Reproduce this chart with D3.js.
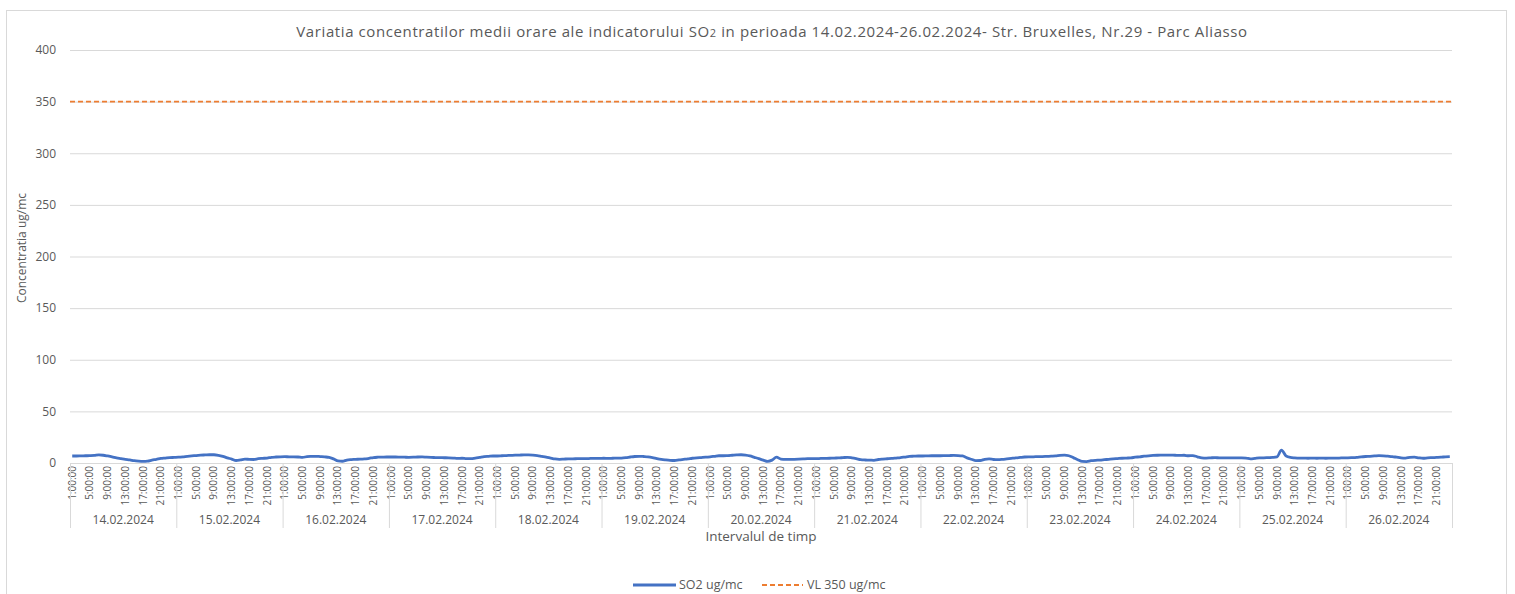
<!DOCTYPE html>
<html>
<head>
<meta charset="utf-8">
<script src="https://cdn.jsdelivr.net/npm/d3@7"></script>
<style>
  body { margin: 0; background: #fff; }
  text { font-family: "Open Sans", "DejaVu Sans", sans-serif; fill: #595959; }
</style>
</head>
<body>
<div id="chart"></div>
<script>
// Data
const days = ['14.02.2024', '15.02.2024', '16.02.2024', '17.02.2024', '18.02.2024', '19.02.2024',
    '20.02.2024', '21.02.2024', '22.02.2024', '23.02.2024', '24.02.2024', '25.02.2024', '26.02.2024'];

const hourLabels = ['1:00:00', '2:00:00', '3:00:00', '4:00:00', '5:00:00', '6:00:00', '7:00:00', '8:00:00',
    '9:00:00', '10:00:00', '11:00:00', '12:00:00', '13:00:00', '14:00:00', '15:00:00', '16:00:00',
    '17:00:00', '18:00:00', '19:00:00', '20:00:00', '21:00:00', '22:00:00', '23:00:00', '0:00:00'];

// SO2 hourly averages, one row per day (24 values)
const so2Values = [
    6.8, 6.8, 6.9, 7, 7.1, 7.3, 7.8, 7.5, 6.8, 6, 5, 4.3, 3.6, 3, 2.2, 1.8, 1.6, 1.8, 2.8, 3.5, 4.4, 4.8, 5.2, 5.4,
    5.6, 6, 6.5, 6.9, 7.2, 7.6, 7.8, 8, 8, 7.5, 6.5, 5, 3.8, 2.4, 3, 3.8, 3.5, 3.4, 4.2, 4.5, 4.8, 5.5, 5.8, 6,
    6.1, 6, 6, 5.8, 5.4, 6.2, 6.4, 6.5, 6.2, 5.9, 5.5, 4, 2, 1.7, 2.9, 3.3, 3.5, 3.8, 3.9, 4.5, 5.3, 5.6, 5.7, 5.8,
    5.8, 5.8, 5.7, 5.6, 5.5, 5.6, 5.8, 5.9, 5.6, 5.4, 5.3, 5.2, 5.1, 5, 4.8, 4.5, 4.6, 4.2, 4.2, 4.8, 5.5, 6.2, 6.5, 6.8,
    6.8, 7, 7.2, 7.4, 7.6, 7.7, 7.8, 7.8, 7.6, 7.2, 6.5, 5.8, 4.8, 3.9, 3.6, 3.8, 4, 4, 4.2, 4.3, 4.2, 4.4, 4.5, 4.5,
    4.6, 4.5, 4.6, 4.7, 4.8, 5.2, 5.8, 6.3, 6.5, 6.3, 6, 5.3, 4.3, 3.5, 3, 2.6, 2.4, 3, 3.5, 4, 4.6, 5, 5.3, 5.6,
    6, 6.5, 7, 7, 7.2, 7.5, 7.8, 8, 7.6, 6.8, 5.5, 4.2, 2.8, 1.6, 2.8, 5.6, 3.8, 3.6, 3.6, 3.6, 3.7, 3.9, 4.2, 4.2,
    4.2, 4.4, 4.5, 4.6, 4.8, 4.9, 5.2, 5.5, 5, 4.2, 3.2, 2.9, 2.8, 2.6, 3.4, 3.8, 4.1, 4.4, 4.8, 5.2, 5.8, 6.4, 6.6, 6.8,
    6.8, 6.9, 7, 7, 7, 7.1, 7.2, 7.3, 7.2, 6.8, 5, 3.6, 2.3, 2.4, 3.6, 4, 3.4, 3.2, 3.5, 4, 4.5, 5, 5.4, 5.8,
    6, 6, 6.2, 6.2, 6.4, 6.6, 6.8, 7.4, 7.6, 7, 5.2, 3.2, 1.5, 1.4, 2.2, 2.6, 2.8, 3.2, 3.6, 4, 4.3, 4.6, 4.8, 5,
    5.6, 6, 6.6, 7, 7.3, 7.5, 7.6, 7.7, 7.6, 7.5, 7.4, 7.5, 7, 7.2, 6, 5, 4.8, 5, 5.2, 5, 5, 4.9, 5, 4.9,
    5, 4.8, 4, 4.5, 5, 5, 5.2, 5.4, 6, 12.5, 7, 5.4, 5, 4.8, 4.8, 4.6, 4.8, 4.6, 4.8, 4.6, 4.7, 4.8, 4.8, 5,
    5, 5.2, 5.5, 6, 6.3, 6.5, 6.8, 7.2, 7, 6.6, 6.2, 5.6, 5, 4.8, 5.4, 5.6, 5, 4.6, 5, 5.2, 5.4, 5.6, 6, 6.2
];

const limitValue = 350;
const yTicks = [0, 50, 100, 150, 200, 250, 300, 350, 400];

// Layout
const W = 1515, H = 594;
const plot = { left: 70, right: 1452, top: 50, bottom: 463 };

const svg = d3.select('#chart').append('svg')
    .attr('width', W)
    .attr('height', H);

// outer chart border
svg.append('rect')
    .attr('x', 6.5).attr('y', 10.5)
    .attr('width', 1500).attr('height', 600)
    .attr('fill', 'none')
    .attr('stroke', '#d9d9d9');

const points = so2Values.map((v, i) => ({ i: i, day: days[Math.floor(i / 24)], hour: hourLabels[i % 24], value: v }));

const xScale = d3.scaleBand()
    .domain(points.map(d => d.i))
    .range([plot.left, plot.right]);

const yScale = d3.scaleLinear()
    .domain([0, 400])
    .range([plot.bottom, plot.top]);

// gridlines
svg.append('g')
    .selectAll('line')
    .data(yTicks.filter(t => t > 0))
    .join('line')
    .attr('x1', plot.left).attr('x2', plot.right)
    .attr('y1', d => yScale(d) + 0.5).attr('y2', d => yScale(d) + 0.5)
    .attr('stroke', '#d9d9d9');

// y axis labels
const yAxis = d3.axisLeft(yScale).tickValues(yTicks).tickSize(0).tickPadding(14);
const yG = svg.append('g')
    .attr('transform', `translate(${plot.left},0)`)
    .call(yAxis);
yG.select('.domain').remove();
yG.selectAll('text')
    .style('font-size', '12px')
    .attr('fill', '#595959');

// x axis baseline
svg.append('line')
    .attr('x1', plot.left).attr('x2', plot.right)
    .attr('y1', plot.bottom + 0.5).attr('y2', plot.bottom + 0.5)
    .attr('stroke', '#d9d9d9');

// hour labels (every 4th)
svg.append('g')
    .selectAll('text')
    .data(points.filter(d => d.i % 4 === 0))
    .join('text')
    .attr('transform', d => `translate(${xScale(d.i) + xScale.bandwidth() / 2},${plot.bottom + 3}) rotate(-90)`)
    .attr('text-anchor', 'end')
    .attr('dy', '0.35em')
    .style('font-size', '10px')
    .text(d => d.hour);

// day group separators + labels
const dayWidth = xScale.bandwidth() * 24;
svg.append('g')
    .selectAll('line')
    .data(d3.range(days.length + 1))
    .join('line')
    .attr('x1', d => d3.min([plot.right, plot.left + d * dayWidth]) + 0.5)
    .attr('x2', d => d3.min([plot.right, plot.left + d * dayWidth]) + 0.5)
    .attr('y1', plot.bottom).attr('y2', 528)
    .attr('stroke', '#d9d9d9');

svg.append('g')
    .selectAll('text')
    .data(days)
    .join('text')
    .attr('x', (d, i) => plot.left + (i + 0.5) * dayWidth)
    .attr('y', 524)
    .attr('text-anchor', 'middle')
    .style('font-size', '12px')
    .text(d => d);

// limit line
svg.append('line')
    .attr('x1', plot.left).attr('x2', plot.right)
    .attr('y1', yScale(limitValue)).attr('y2', yScale(limitValue))
    .attr('stroke', '#ed7d31')
    .attr('stroke-width', 1.8)
    .attr('stroke-dasharray', '5,3');

// SO2 line
const line = d3.line()
    .x(d => xScale(d.i) + xScale.bandwidth() / 2)
    .y(d => yScale(d.value))
    .curve(d3.curveMonotoneX);

svg.append('path')
    .datum(points)
    .attr('d', line)
    .attr('fill', 'none')
    .attr('stroke', '#4472c4')
    .attr('stroke-width', 2.8)
    .attr('stroke-linejoin', 'round');

// title
const title = svg.append('text')
    .attr('x', 772)
    .attr('y', 37)
    .attr('text-anchor', 'middle')
    .style('font-size', '15px')
    .style('letter-spacing', '0.6px');
title.append('tspan').text('Variatia concentratilor medii orare ale indicatorului SO');
title.append('tspan').style('font-size', '11px').text('2');
title.append('tspan').text(' in perioada 14.02.2024-26.02.2024- Str. Bruxelles, Nr.29 - Parc Aliasso');

// axis titles
svg.append('text')
    .attr('transform', 'translate(26,248) rotate(-90)')
    .attr('text-anchor', 'middle')
    .style('font-size', '12px')
    .text('Concentratia ug/mc');

svg.append('text')
    .attr('x', 761)
    .attr('y', 541)
    .attr('text-anchor', 'middle')
    .style('font-size', '13.5px')
    .text('Intervalul de timp');

// legend
const legend = svg.append('g');
legend.append('line')
    .attr('x1', 633).attr('x2', 676)
    .attr('y1', 585).attr('y2', 585)
    .attr('stroke', '#4472c4')
    .attr('stroke-width', 2.8);
legend.append('text')
    .attr('x', 679).attr('y', 589)
    .style('font-size', '12.5px')
    .text('SO2 ug/mc');
legend.append('line')
    .attr('x1', 762).attr('x2', 803)
    .attr('y1', 585).attr('y2', 585)
    .attr('stroke', '#ed7d31')
    .attr('stroke-width', 1.8)
    .attr('stroke-dasharray', '5,3');
legend.append('text')
    .attr('x', 807).attr('y', 589)
    .style('font-size', '12.5px')
    .text('VL 350 ug/mc');
</script>
</body>
</html>
